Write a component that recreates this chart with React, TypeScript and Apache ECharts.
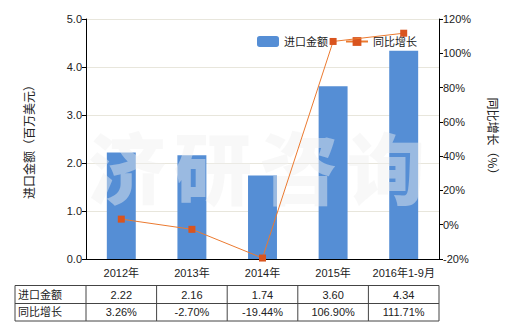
import React, { useEffect, useRef } from "react";
import * as echarts from "echarts";

const categories = ["2012年", "2013年", "2014年", "2015年", "2016年1-9月"];
const importValues = [2.22, 2.16, 1.74, 3.6, 4.34];
const growthValues = [3.26, -2.7, -19.44, 106.9, 111.71];
const importLabels = ["2.22", "2.16", "1.74", "3.60", "4.34"];
const growthLabels = ["3.26%", "-2.70%", "-19.44%", "106.90%", "111.71%"];
const seriesNames = ["进口金额", "同比增长"];
const watermarkChars = ["济", "研", "咨", "询"];

const FONT = "'Liberation Sans', 'Noto Sans CJK SC', sans-serif";
const GRID_LEFT = 86;
const GRID_RIGHT_X = 439;
const GRID_TOP = 19;
const GRID_BOTTOM_Y = 259;
const TABLE_LEFT = 15;
const ROW_TOP = 285.5;
const ROW_MID = 303.5;
const ROW_BOTTOM = 321;

export default function App() {
  const ref = useRef<HTMLDivElement>(null);
  useEffect(() => {
    if (!ref.current) return;
    const chart = echarts.init(ref.current, undefined, { renderer: "svg" });
    const colW = (GRID_RIGHT_X - GRID_LEFT) / categories.length;
    const tableEls: any[] = [];
    const stroke = { stroke: "#444", lineWidth: 1 };
    [ROW_TOP, ROW_MID, ROW_BOTTOM].forEach((y) => {
      tableEls.push({ type: "line", shape: { x1: TABLE_LEFT, y1: y, x2: GRID_RIGHT_X, y2: y }, style: stroke });
    });
    const xs = [TABLE_LEFT];
    for (let i = 0; i <= categories.length; i++) xs.push(GRID_LEFT + i * colW);
    xs.forEach((x) => {
      tableEls.push({ type: "line", shape: { x1: x, y1: ROW_TOP, x2: x, y2: ROW_BOTTOM }, style: stroke });
    });
    const rows = [importLabels, growthLabels];
    rows.forEach((row, r) => {
      const cy = r === 0 ? (ROW_TOP + ROW_MID) / 2 : (ROW_MID + ROW_BOTTOM) / 2;
      tableEls.push({
        type: "text",
        x: TABLE_LEFT + 3,
        y: cy,
        style: { text: seriesNames[r], fill: "#222", font: `11px ${FONT}`, align: "left", verticalAlign: "middle" },
      });
      row.forEach((t, i) => {
        tableEls.push({
          type: "text",
          x: GRID_LEFT + (i + 0.5) * colW,
          y: cy,
          style: { text: t, fill: "#222", font: `11px ${FONT}`, align: "center", verticalAlign: "middle" },
        });
      });
    });
    const wmX = [127, 213, 299, 386];
    const watermark = watermarkChars.map((c, i) => ({
      type: "text",
      x: wmX[i],
      y: 165,
      z: 3,
      style: {
        text: c,
        fill: "rgba(240,240,240,0.45)",
        font: `900 78px 'Noto Sans CJK SC', sans-serif`,
        align: "center",
        verticalAlign: "middle",
      },
    }));

    chart.setOption({
      animation: false,
      backgroundColor: "#fff",
      textStyle: { fontFamily: FONT },
      grid: { left: GRID_LEFT, right: 520 - GRID_RIGHT_X, top: GRID_TOP, bottom: 330 - GRID_BOTTOM_Y, containLabel: false },
      legend: {
        left: 252,
        top: 31,
        itemWidth: 22,
        itemHeight: 11,
        itemGap: 17,
        textStyle: { fontSize: 11, color: "#222", fontFamily: FONT },
        data: seriesNames,
      },
      xAxis: {
        type: "category",
        data: categories,
        axisLine: { lineStyle: { color: "#000" } },
        axisTick: { alignWithLabel: true, length: 4, lineStyle: { color: "#000" } },
        axisLabel: { color: "#222", fontSize: 11, margin: 8, interval: 0, fontFamily: FONT },
      },
      yAxis: [
        {
          type: "value",
          min: 0,
          max: 5,
          interval: 1,
          name: "进口金额（百万美元）",
          nameLocation: "middle",
          nameGap: 52,
          nameRotate: 90,
          nameTextStyle: { fontSize: 12, color: "#222", fontFamily: "'Noto Sans CJK SC', sans-serif" },
          axisLine: { show: true, lineStyle: { color: "#000" } },
          axisTick: { show: true, length: 4, lineStyle: { color: "#000" } },
          axisLabel: { color: "#222", fontSize: 11, margin: 4, formatter: (v: number) => v.toFixed(1) },
          splitLine: { show: true, lineStyle: { color: "#E8E6DC" } },
        },
        {
          type: "value",
          min: -20,
          max: 120,
          interval: 20,
          position: "right",
          name: "同比增长（%）",
          nameLocation: "middle",
          nameGap: 48,
          nameRotate: -90,
          nameTextStyle: { fontSize: 12, color: "#222", fontFamily: "'Noto Sans CJK SC', sans-serif" },
          axisLine: { show: true, lineStyle: { color: "#000" } },
          axisTick: { show: true, length: 4, lineStyle: { color: "#000" } },
          axisLabel: { color: "#222", fontSize: 11, margin: 4, formatter: (v: number) => v + "%" },
          splitLine: { show: false },
        },
      ],
      series: [
        {
          name: seriesNames[0],
          type: "bar",
          data: importValues,
          barWidth: "41%",
          itemStyle: { color: "#558ED5" },
          z: 1,
        },
        {
          name: seriesNames[1],
          type: "line",
          yAxisIndex: 1,
          data: growthValues,
          symbol: "rect",
          symbolSize: 7,
          lineStyle: { color: "#EB7A30", width: 1 },
          itemStyle: { color: "#D9541E" },
          z: 5,
        },
      ],
      graphic: [...watermark, ...tableEls],
    });
    return () => chart.dispose();
  }, []);
  return <div ref={ref} style={{ width: 520, height: 330, margin: -8 }} />;
}
